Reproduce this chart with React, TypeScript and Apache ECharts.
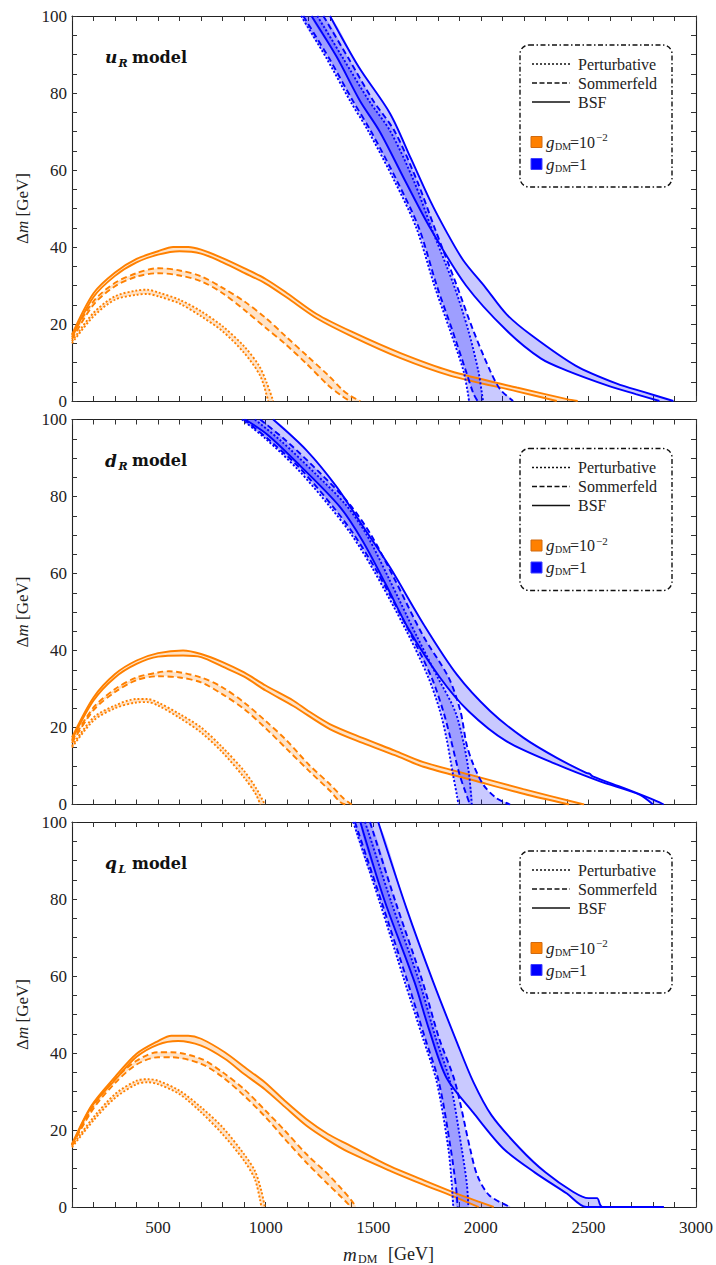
import React, { useEffect, useRef } from "react";
import * as echarts from "echarts";

type Pt = [number, number];

// ---------- axis definitions ----------
const X_MIN = 100;
const X_MAX = 3000;
const X_STEP = 100;
const X_LABELS = [500, 1000, 1500, 2000, 2500, 3000];
const Y_MIN = 0;
const Y_MAX = 100;
const Y_STEP = 5;
const Y_LABELS = [0, 20, 40, 60, 80, 100];

// ---------- panel 1 : u_R model ----------
const uR_oPertUp: Pt[] = [[100, 15.5], [200, 22.9], [300, 27.2], [400, 28.7], [450, 28.9], [500, 28.2], [600, 26.3], [700, 23.3], [800, 19.4], [900, 14.2], [970, 9.1], [1005, 4.7], [1035, 0]];
const uR_oPertLo: Pt[] = [[100, 15], [200, 22], [300, 26.3], [400, 27.6], [450, 27.8], [500, 27.2], [600, 25.3], [700, 22], [800, 18.1], [900, 12.5], [975, 6.5], [1012, 0]];
const uR_oSommUp: Pt[] = [[100, 17], [200, 25.9], [300, 30.7], [400, 33.2], [500, 34.5], [600, 33.9], [700, 32.4], [800, 29.4], [900, 25.9], [1000, 21.6], [1093, 16.8], [1193, 11.7], [1294, 6.5], [1355, 3], [1395, 1.3], [1440, 0]];
const uR_oSommLo: Pt[] = [[100, 16], [200, 25], [300, 29.8], [400, 32.3], [500, 33.2], [600, 32.6], [700, 31.1], [800, 28], [900, 23.7], [1000, 19], [1093, 14.7], [1193, 9.5], [1294, 3.9], [1355, 1.3], [1390, 0]];
const uR_oBsfUp: Pt[] = [[100, 17.3], [200, 28], [300, 33.4], [400, 36.9], [500, 38.9], [570, 40], [640, 40], [700, 39.3], [800, 37.1], [900, 34.5], [1000, 31.7], [1100, 28], [1237, 22.6], [1400, 18], [1624, 12.5], [1857, 7.8], [2167, 3.5], [2400, 0.5], [2450, 0]];
const uR_oBsfLo: Pt[] = [[100, 16.5], [200, 27], [300, 32.5], [400, 36], [500, 38], [600, 38.9], [700, 38.3], [800, 36], [900, 33.3], [1000, 30.5], [1100, 26.8], [1237, 21.5], [1400, 16.8], [1624, 11.2], [1857, 6.6], [2167, 2.5], [2353, 0]];
const uR_bPertLo: Pt[] = [[1165, 100], [1283, 89], [1392, 78], [1478, 70], [1600, 57], [1700, 45], [1784, 30], [1857, 18.3], [1919, 7.9], [1940, 2], [1945, 0]];
const uR_bPertUp: Pt[] = [[1240, 100], [1360, 89], [1480, 78], [1580, 70], [1690, 57], [1770, 45], [1875, 30], [1942, 18.3], [1988, 7.9], [2005, 2], [2010, 0]];
const uR_bSommLo: Pt[] = [[1175, 100], [1295, 89], [1405, 78], [1490, 70], [1612, 57], [1712, 45], [1795, 30], [1868, 18.3], [1930, 7.9], [1965, 2], [1985, 0]];
const uR_bSommUp: Pt[] = [[1268, 100], [1385, 89], [1500, 78], [1600, 70], [1705, 57], [1785, 45], [1888, 30], [1965, 18.3], [2043, 7.9], [2090, 3], [2150, 0]];
const uR_bBsfLo: Pt[] = [[1213, 100], [1330, 89.4], [1438, 78], [1530, 70], [1650, 57], [1764, 45], [1931, 30], [2120, 18.3], [2280, 11], [2400, 7.9], [2600, 3.8], [2720, 1.8], [2830, 0]];
const uR_bBsfUp: Pt[] = [[1299, 100], [1432, 86.8], [1578, 74.7], [1675, 63], [1764, 52.1], [1840, 44], [1919, 36.5], [2020, 29.6], [2120, 22.5], [2237, 17], [2440, 9.2], [2632, 4.5], [2760, 2.3], [2895, 0]];

// ---------- panel 2 : d_R model ----------
const dR_oPertUp: Pt[] = [[100, 15.2], [200, 22.6], [300, 25.7], [400, 27.4], [450, 27.4], [500, 26.5], [600, 23.5], [700, 20], [800, 14.8], [900, 8.7], [955, 4.3], [988, 0.9], [996, 0]];
const dR_oPertLo: Pt[] = [[100, 14.8], [200, 21.8], [300, 25], [400, 26.5], [450, 26.6], [500, 25.7], [600, 22.5], [700, 18.7], [800, 13.5], [900, 7], [955, 2.6], [975, 0]];
const dR_oSommUp: Pt[] = [[100, 16.5], [200, 25.2], [300, 30], [400, 33], [500, 34.3], [550, 34.6], [700, 33], [800, 30.4], [900, 26.5], [1000, 21.7], [1100, 16.5], [1200, 10.4], [1300, 5.2], [1360, 1.7], [1400, 0]];
const dR_oSommLo: Pt[] = [[100, 16], [200, 24.5], [300, 29.2], [400, 32.3], [500, 33.3], [600, 33], [700, 31.7], [800, 28.6], [900, 24.8], [1000, 19.8], [1100, 14.3], [1200, 8.8], [1300, 3.5], [1345, 0.7], [1370, 0]];
const dR_oBsfUp: Pt[] = [[100, 17.4], [200, 27.8], [300, 33.9], [400, 37.4], [500, 39.3], [616, 40], [700, 39.1], [800, 37], [900, 34.3], [1000, 30.9], [1128, 27], [1198, 24.3], [1298, 20.9], [1450, 17.3], [1600, 14], [1733, 11], [1965, 7.5], [2198, 4], [2480, 0]];
const dR_oBsfLo: Pt[] = [[100, 16.8], [200, 27], [300, 33], [400, 36.5], [500, 38.4], [616, 38.7], [700, 38.3], [800, 35.8], [900, 33.2], [1000, 29.6], [1128, 25.6], [1298, 19.6], [1450, 16], [1600, 12.8], [1733, 9.8], [1965, 6.3], [2198, 2.8], [2410, 0]];
const dR_bPertLo: Pt[] = [[890, 100], [1000, 95], [1150, 87], [1304, 77], [1400, 70], [1500, 61], [1655, 45], [1756, 33], [1810, 24.3], [1841, 17], [1870, 8], [1890, 2], [1896, 0]];
const dR_bPertUp: Pt[] = [[950, 100], [1070, 94.5], [1230, 86], [1370, 78], [1470, 70], [1570, 59], [1700, 44], [1800, 33], [1880, 24.3], [1920, 16], [1945, 8], [1958, 0]];
const dR_bSommLo: Pt[] = [[900, 100], [1010, 95], [1165, 87], [1318, 77], [1412, 70], [1512, 61], [1667, 45], [1771, 33], [1825, 24.3], [1860, 17], [1900, 8], [1930, 3], [1950, 0]];
const dR_bSommUp: Pt[] = [[975, 100], [1095, 94.5], [1255, 86], [1390, 78], [1490, 70], [1595, 59], [1730, 44], [1850, 33], [1905, 24.3], [1934, 15.6], [1965, 10.4], [2012, 5.1], [2074, 1.6], [2136, 0]];
const dR_bBsfLo: Pt[] = [[905, 100], [1010, 96], [1160, 88], [1345, 77.3], [1450, 68.5], [1560, 57], [1660, 46], [1810, 33], [1942, 24.3], [2120, 16.4], [2353, 10.4], [2554, 6], [2740, 2.5], [2800, 0]];
const dR_bBsfUp: Pt[] = [[1035, 100], [1190, 92], [1330, 82.5], [1455, 72], [1578, 61.6], [1733, 46.9], [1888, 33.8], [2043, 24.3], [2199, 17.3], [2353, 12.1], [2490, 8.2], [2505, 8], [2520, 7.3], [2663, 4.3], [2790, 1.5], [2850, 0]];

// ---------- panel 3 : q_L model ----------
const qL_oPertUp: Pt[] = [[100, 15.9], [200, 23.3], [300, 29.3], [400, 32.8], [453, 33.2], [500, 32.8], [600, 30.2], [700, 25.9], [800, 20.7], [900, 13.7], [950, 9.4], [980, 4.2], [996, 0]];
const qL_oPertLo: Pt[] = [[100, 15.5], [200, 22.5], [300, 28.3], [400, 31.9], [453, 32.4], [500, 31.9], [600, 29.3], [700, 24.6], [800, 18.9], [900, 12], [950, 7.2], [975, 1.6], [980, 0]];
const qL_oSommUp: Pt[] = [[100, 16.3], [200, 26.3], [300, 33.2], [400, 38], [500, 40.2], [562, 40.2], [700, 38.5], [800, 35], [900, 30.6], [1000, 25], [1090, 19.8], [1190, 13.7], [1290, 8.5], [1355, 4.6], [1400, 1.6], [1420, 0]];
const qL_oSommLo: Pt[] = [[100, 16], [200, 25.6], [300, 32.2], [400, 37], [500, 38.9], [562, 38.9], [700, 37.2], [800, 33.7], [900, 28.9], [1000, 23.3], [1090, 17.6], [1190, 11.5], [1290, 5.9], [1355, 2.4], [1385, 0.7], [1395, 0]];
const qL_oBsfUp: Pt[] = [[100, 16.3], [190, 26.3], [300, 33.8], [400, 39.8], [500, 43.1], [562, 44.5], [640, 44.5], [700, 43.7], [810, 40.2], [903, 36.3], [996, 32.4], [1089, 27.6], [1190, 22.8], [1291, 18.9], [1384, 16.2], [1578, 10.6], [1733, 7], [1888, 3.5], [2000, 1.2], [2060, 0]];
const qL_oBsfLo: Pt[] = [[100, 16], [190, 26], [300, 33], [400, 39], [500, 42.2], [593, 43.1], [700, 41.9], [810, 38.5], [903, 34.4], [996, 30.6], [1089, 26], [1190, 21.1], [1291, 17.3], [1384, 14.3], [1578, 9.4], [1733, 5.8], [1888, 2.4], [1990, 0]];
const qL_bPertLo: Pt[] = [[1407, 100], [1531, 79], [1647, 58.4], [1730, 44], [1795, 32.5], [1849, 15.2], [1865, 6], [1872, 0]];
const qL_bPertUp: Pt[] = [[1462, 100], [1585, 79], [1715, 58.4], [1790, 44], [1857, 32.5], [1911, 15.2], [1935, 6], [1942, 0]];
const qL_bSommLo: Pt[] = [[1415, 100], [1540, 79], [1660, 58.4], [1740, 44], [1805, 32.5], [1860, 15.2], [1885, 5], [1892, 0]];
const qL_bSommUp: Pt[] = [[1485, 100], [1605, 79], [1730, 58.4], [1805, 44], [1880, 32.5], [1950, 15.2], [1985, 8], [2040, 3], [2136, 0]];
const qL_bBsfLo: Pt[] = [[1440, 100], [1550, 80], [1692, 58.4], [1760, 46], [1841, 33.5], [1965, 24.5], [2104, 15.2], [2250, 9], [2400, 3.5], [2490, 0], [2850, 0]];
const qL_bBsfUp: Pt[] = [[1523, 100], [1655, 77.5], [1779, 58.4], [1888, 42.9], [1965, 32.5], [2050, 23.8], [2182, 15.2], [2300, 9], [2430, 3.9], [2500, 2.3], [2540, 2.3], [2555, 0.5], [2565, 0], [2850, 0]];

// ---------- labels ----------
const MODEL_NAMES: [string, string][] = [["u", "R"], ["d", "R"], ["q", "L"]];
const LEGEND_LINES = ["Perturbative", "Sommerfeld", "BSF"];

// ---------- styling ----------
const ORANGE = "#ff8000";
const BLUE = "#0000ff";
const ORANGE_FILL = "rgba(255,128,0,0.22)";
const BLUE_FILL = "rgba(0,0,255,0.21)";
const DASHES: Record<string, any> = { dotted: [2, 2], dashed: [6, 3.5], solid: "solid" };
const SERIF = "Liberation Serif";
const BOLD_SERIF = "DejaVu Serif";
const SMOOTH = 0.3;

const PANEL_TOPS = [16, 419.5, 822];
const PANEL_H = 385;
const GRID_LEFT = 72;
const GRID_W = 624;

type Band = { color: string; fill: string; style: string; lo: Pt[]; up: Pt[] };

function bands(o: Pt[][], b: Pt[][]): Band[] {
  const styles = ["dotted", "dashed", "solid"];
  const out: Band[] = [];
  styles.forEach((s, k) => out.push({ color: ORANGE, fill: ORANGE_FILL, style: s, lo: o[2 * k], up: o[2 * k + 1] }));
  styles.forEach((s, k) => out.push({ color: BLUE, fill: BLUE_FILL, style: s, lo: b[2 * k], up: b[2 * k + 1] }));
  return out;
}

const PANEL_BANDS: Band[][] = [
  bands([uR_oPertLo, uR_oPertUp, uR_oSommLo, uR_oSommUp, uR_oBsfLo, uR_oBsfUp], [uR_bPertLo, uR_bPertUp, uR_bSommLo, uR_bSommUp, uR_bBsfLo, uR_bBsfUp]),
  bands([dR_oPertLo, dR_oPertUp, dR_oSommLo, dR_oSommUp, dR_oBsfLo, dR_oBsfUp], [dR_bPertLo, dR_bPertUp, dR_bSommLo, dR_bSommUp, dR_bBsfLo, dR_bBsfUp]),
  bands([qL_oPertLo, qL_oPertUp, qL_oSommLo, qL_oSommUp, qL_oBsfLo, qL_oBsfUp], [qL_bPertLo, qL_bPertUp, qL_bSommLo, qL_bSommUp, qL_bBsfLo, qL_bBsfUp]),
];

function txt(x: number, y: number, text: string, size: number, family: string, opts: any = {}) {
  return {
    type: "text", x, y, silent: true,
    style: {
      text, fontSize: size, fontFamily: family,
      fontStyle: opts.italic ? "italic" : "normal", fontWeight: opts.bold ? "bold" : "normal",
      fill: opts.fill || "#222", verticalAlign: "middle", textVerticalAlign: "middle",
    },
  };
}

function buildOption() {
  const grid: any[] = [];
  const xAxis: any[] = [];
  const yAxis: any[] = [];
  const series: any[] = [];
  const graphic: any[] = [];

  const axisLine = { show: true, onZero: false, lineStyle: { color: "#222", width: 1.1 } };
  const axisTick = { show: true, inside: true, length: 5, lineStyle: { color: "#333", width: 1 } };

  PANEL_TOPS.forEach((T, i) => {
    grid.push({ left: GRID_LEFT, top: T, width: GRID_W, height: PANEL_H, containLabel: false });
    const last = i === PANEL_TOPS.length - 1;
    xAxis.push({
      type: "value", gridIndex: i, position: "bottom", min: X_MIN, max: X_MAX, interval: X_STEP,
      axisLine, axisTick, splitLine: { show: false },
      axisLabel: {
        show: last, interval: 0, margin: 12, color: "#222", fontFamily: SERIF, fontSize: 17,
        formatter: (v: number) => (X_LABELS.includes(v) ? String(v) : ""),
      },
    });
    xAxis.push({
      type: "value", gridIndex: i, position: "top", min: X_MIN, max: X_MAX, interval: X_STEP,
      axisLine, axisTick, splitLine: { show: false }, axisLabel: { show: false },
    });
    yAxis.push({
      type: "value", gridIndex: i, position: "left", min: Y_MIN, max: Y_MAX, interval: Y_STEP,
      axisLine, axisTick, splitLine: { show: false },
      axisLabel: {
        interval: 0, margin: 5, color: "#222", fontFamily: SERIF, fontSize: 17,
        formatter: (v: number) => (Y_LABELS.includes(v) ? String(v) : ""),
      },
      name: "{a|Δ}{i|m}{a| [GeV]}",
      nameLocation: "middle", nameRotate: 90, nameGap: 38,
      nameTextStyle: {
        color: "#222", fontFamily: SERIF, fontSize: 17,
        rich: {
          a: { fontFamily: SERIF, fontSize: 17, color: "#222" },
          i: { fontFamily: SERIF, fontSize: 17, fontStyle: "italic", color: "#222" },
        },
      },
    });
    yAxis.push({
      type: "value", gridIndex: i, position: "right", min: Y_MIN, max: Y_MAX, interval: Y_STEP,
      axisLine, axisTick, splitLine: { show: false }, axisLabel: { show: false },
    });

    PANEL_BANDS[i].forEach((b) => {
      const poly: Pt[] = [...b.lo, ...b.up.slice().reverse()];
      series.push({
        type: "custom", xAxisIndex: 2 * i, yAxisIndex: 2 * i, z: 1, silent: true, clip: true,
        data: [b.lo[0]],
        renderItem: (_p: any, api: any) => ({
          type: "polygon",
          shape: { points: poly.map((pt) => api.coord(pt)), smooth: SMOOTH },
          style: { fill: b.fill },
        }),
      });
      [b.lo, b.up].forEach((edge) => {
        series.push({
          type: "line", xAxisIndex: 2 * i, yAxisIndex: 2 * i, z: 3, silent: true,
          data: edge, showSymbol: false, symbol: "none", smooth: SMOOTH,
          lineStyle: { color: b.color, width: 1.9, type: DASHES[b.style] },
        });
      });
    });

    // panel title
    const [ch, sub] = MODEL_NAMES[i];
    graphic.push(
      txt(105, T + 41, ch, 17, BOLD_SERIF, { italic: true, bold: true, fill: "#111" }),
      txt(118.5, T + 47, sub, 11, BOLD_SERIF, { italic: true, bold: true, fill: "#111" }),
      txt(132, T + 41, "model", 16, BOLD_SERIF, { bold: true, fill: "#111" })
    );

    // legend box
    const L = 520;
    graphic.push({
      type: "rect", silent: true, shape: { x: L, y: T + 29, width: 152, height: 142, r: 9 },
      style: { fill: "rgba(0,0,0,0)", stroke: "#111", lineWidth: 1.4, lineDash: [5, 2.5, 1.5, 2.5] },
    });
    const dashes = [[2, 2], [5, 2.5], null];
    LEGEND_LINES.forEach((t, k) => {
      const y = T + 48 + k * 19;
      graphic.push({
        type: "line", silent: true, shape: { x1: L + 12, y1: y, x2: L + 50, y2: y },
        style: { stroke: "#111", lineWidth: 1.6, lineDash: dashes[k] || undefined },
      });
      graphic.push(txt(L + 58, y, t, 16, SERIF));
    });
    const entries = [
      { color: ORANGE, stroke: "#d06a10", y: T + 126, exp: "10", sup: "−2" },
      { color: BLUE, stroke: "#4040ff", y: T + 148, exp: "1", sup: "" },
    ];
    entries.forEach((e) => {
      graphic.push({
        type: "rect", silent: true, shape: { x: L + 11, y: e.y - 5.5, width: 11, height: 11 },
        style: { fill: e.color, stroke: e.stroke, lineWidth: 1 },
      });
      graphic.push(
        txt(L + 26, e.y, "g", 17, SERIF, { italic: true }),
        txt(L + 35, e.y + 4, "DM", 10, SERIF),
        txt(L + 50, e.y, "=" + e.exp, 16, SERIF)
      );
      if (e.sup) graphic.push(txt(L + 76, e.y - 5, e.sup, 11, SERIF));
    });
  });

  // x-axis title
  graphic.push(
    txt(343, 1254, "m", 19, SERIF, { italic: true }),
    txt(358, 1259, "DM", 12, SERIF),
    txt(388, 1254, "[GeV]", 18, SERIF)
  );

  return { animation: false, backgroundColor: "#fff", grid, xAxis, yAxis, series, graphic };
}

export default function App() {
  const ref = useRef<HTMLDivElement>(null);
  useEffect(() => {
    if (!ref.current) return;
    const chart = echarts.init(ref.current, undefined, { renderer: "svg" });
    chart.setOption(buildOption() as any);
    return () => chart.dispose();
  }, []);
  return <div ref={ref} style={{ position: "absolute", left: 0, top: 0, width: 716, height: 1265 }} />;
}
